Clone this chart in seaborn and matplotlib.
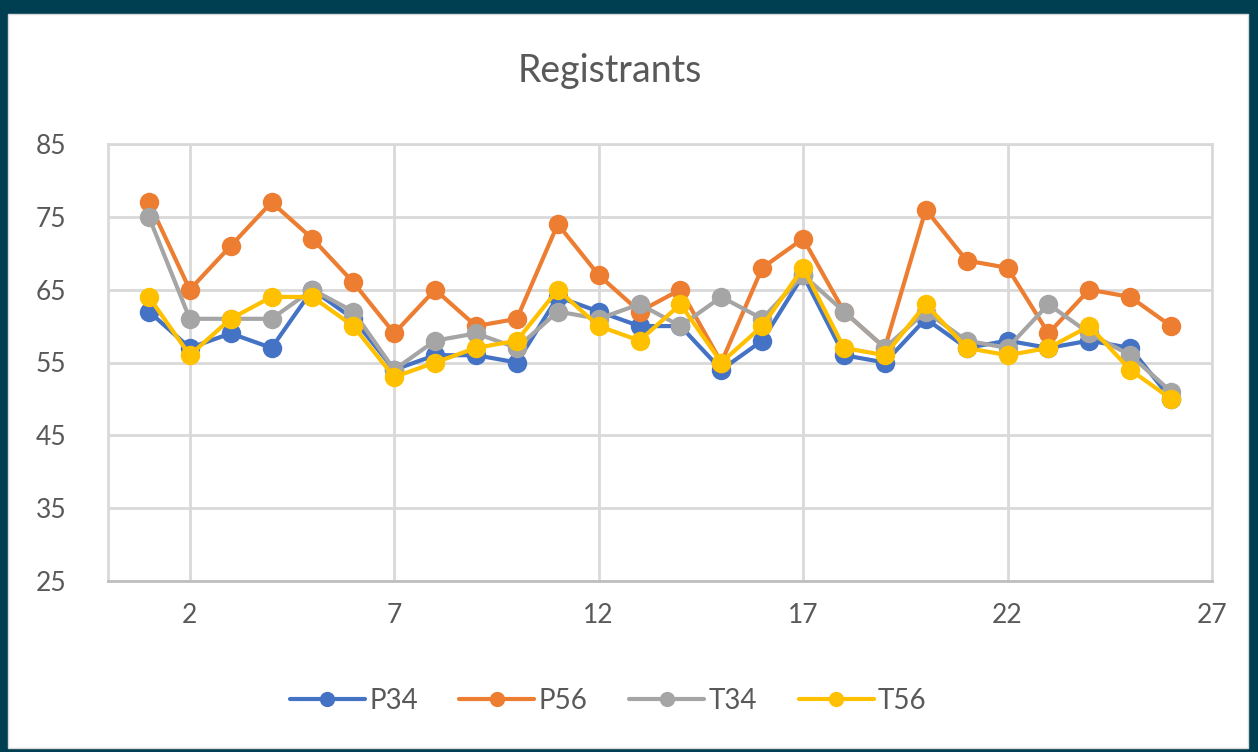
import pandas as pd
import matplotlib.pyplot as plt
import seaborn as sns
from matplotlib.patches import Rectangle

# Visual setup
sns.set_theme(style="whitegrid")
plt.rcParams['font.family'] = ['Lato', 'DejaVu Sans']

# Data
x_vals = list(range(1, 27))
p34 = [62, 57, 59, 57, 65, 61, 54, 56, 56, 55, 64, 62, 60, 60, 54, 58, 67, 56, 55, 61, 57, 58, 57, 58, 57, 50]
p56 = [77, 65, 71, 77, 72, 66, 59, 65, 60, 61, 74, 67, 62, 65, 55, 68, 72, 62, 57, 76, 69, 68, 59, 65, 64, 60]
t34 = [75, 61, 61, 61, 65, 62, 54, 58, 59, 57, 62, 61, 63, 60, 64, 61, 67, 62, 57, 62, 58, 57, 63, 59, 56, 51]
t56 = [64, 56, 61, 64, 64, 60, 53, 55, 57, 58, 65, 60, 58, 63, 55, 60, 68, 57, 56, 63, 57, 56, 57, 60, 54, 50]
series_names = ["P34", "P56", "T34", "T56"]
colors = ["#4472C4", "#ED7D31", "#A5A5A5", "#FFC000"]

df = pd.DataFrame({"x": x_vals, "P34": p34, "P56": p56, "T34": t34, "T56": t56})
df_long = df.melt(id_vars="x", var_name="serie", value_name="valor")

fig = plt.figure(figsize=(12.58, 7.52), dpi=100)
fig.patch.set_facecolor("#003E52")
# white chart area inside the dark frame
fig.patches.append(Rectangle((8 / 1258, 4 / 752), 1240 / 1258, 734 / 752,
                             transform=fig.transFigure, facecolor="white",
                             edgecolor="#D9D9D9", linewidth=1, zorder=-10))

ax = fig.add_axes([108 / 1258, 1 - 581 / 752, 1104 / 1258, 437 / 752])
ax.set_facecolor("white")

sns.lineplot(
    data=df_long, x="x", y="valor", hue="serie",
    hue_order=series_names, palette=colors,
    marker="o", markersize=14, markeredgewidth=0, linewidth=3,
    ax=ax
)

ax.set_xlim(0, 27)
ax.set_ylim(25, 85)
ax.set_xticks([2, 7, 12, 17, 22, 27])
ax.set_yticks([25, 35, 45, 55, 65, 75, 85])
ax.grid(True, color="#D9D9D9", linewidth=2)
for s in ax.spines.values():
    s.set_color("#D9D9D9")
    s.set_linewidth(2)
ax.spines["bottom"].set_color("#BFBFBF")
ax.tick_params(axis="y", labelsize=19, colors="#595959", pad=30, length=0)
ax.tick_params(axis="x", labelsize=19, colors="#595959", pad=16, length=0)
ax.set_xlabel("")
ax.set_ylabel("")

fig.text(0.485, 0.905, "Registrants", ha="center", va="center",
         fontsize=27, color="#595959")

leg = ax.legend(title=None, loc="center", bbox_to_anchor=(0.453, -0.275),
                ncol=4, frameon=False, fontsize=20, handlelength=2.7,
                handletextpad=0.15, columnspacing=1.5, labelcolor="#595959")
for h in leg.get_lines():
    h.set_markersize(11)

plt.savefig("out.png", dpi=100, facecolor=fig.get_facecolor())
